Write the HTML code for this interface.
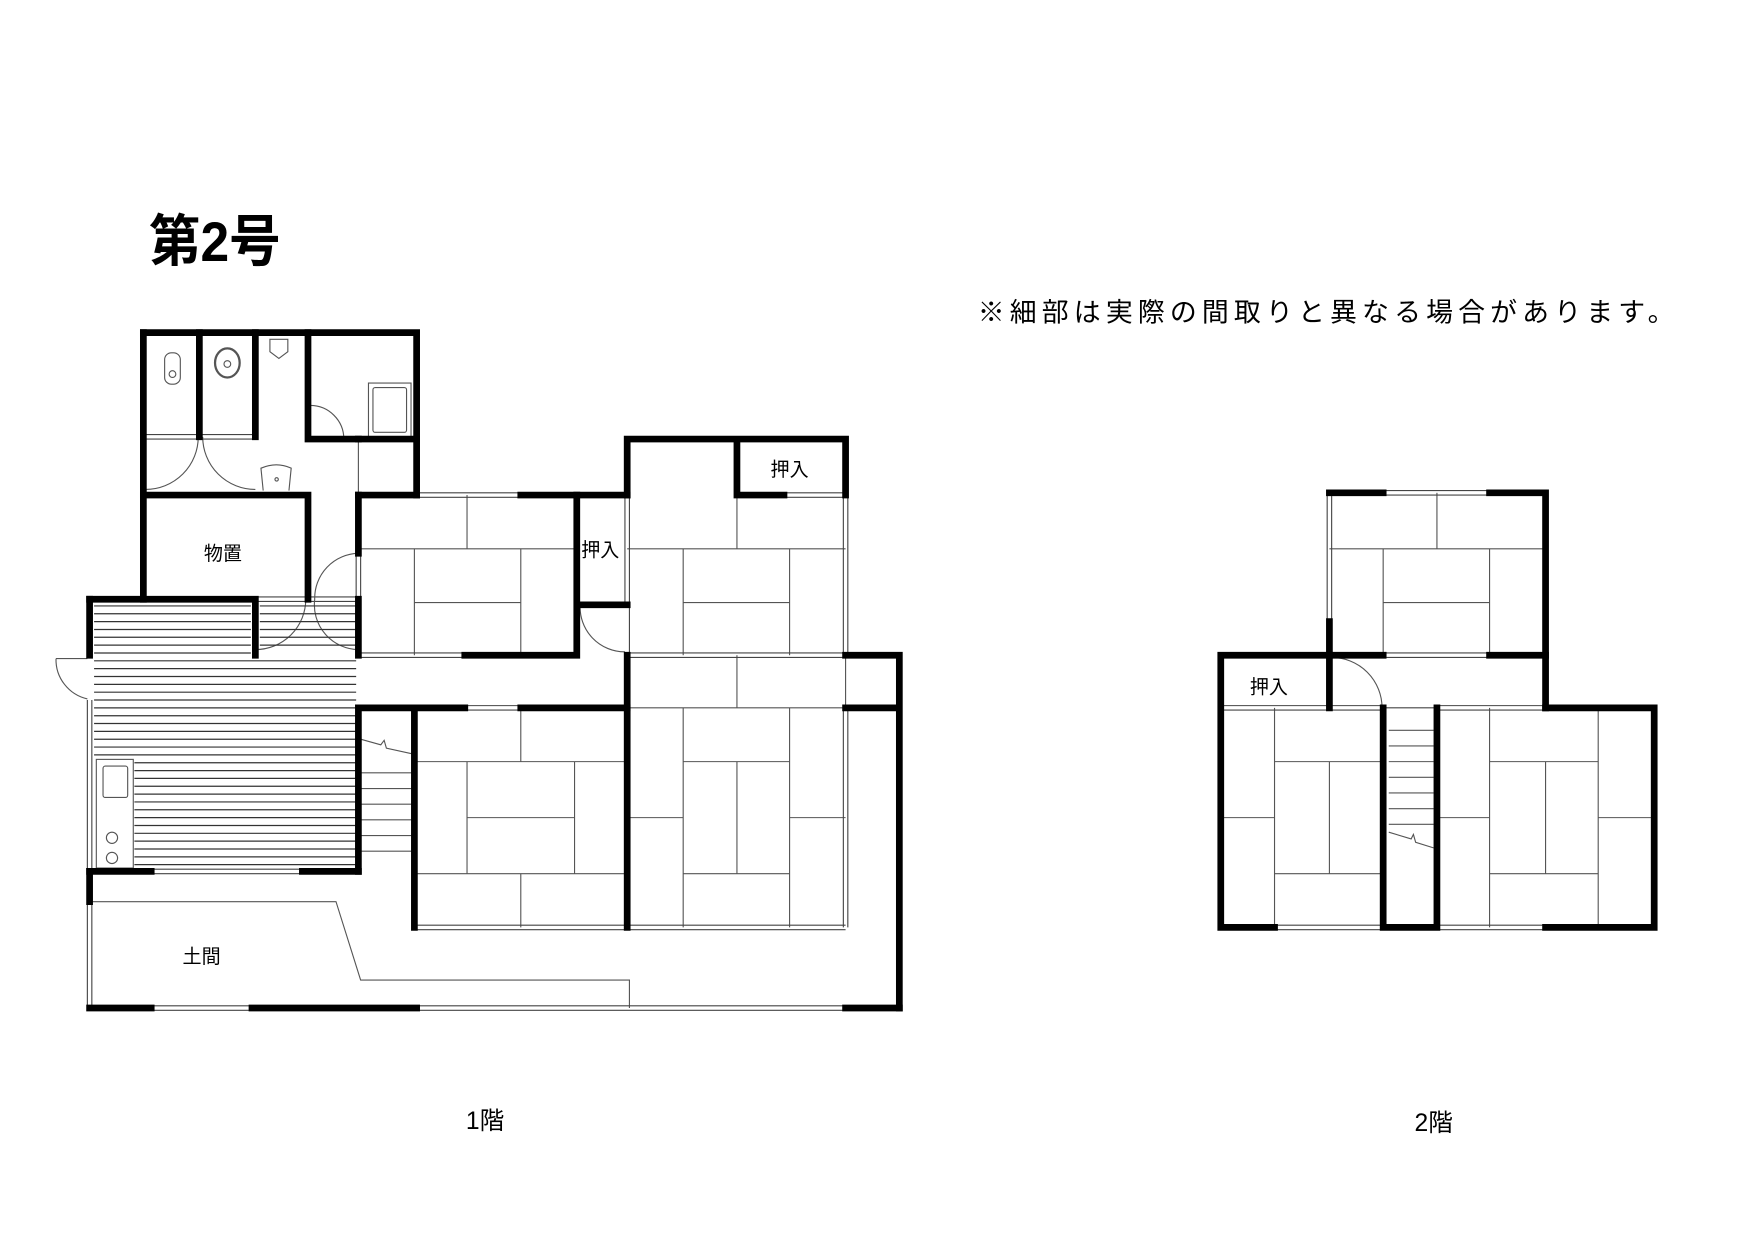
<!DOCTYPE html>
<html><head><meta charset="utf-8"><style>
html,body{margin:0;padding:0;background:#fff;}
svg{display:block;}
text{font-family:"Liberation Sans","Noto Sans CJK JP",sans-serif;fill:#000;}
</style></head><body>
<svg width="1755" height="1241" viewBox="0 0 1567 1108" preserveAspectRatio="none" xmlns="http://www.w3.org/2000/svg">
<rect width="1567" height="1108" fill="#fff"/>
<text x="133" y="233" font-size="50" font-weight="bold" transform="scale(0.92,1)" style="transform-origin:133px 233px">第2号</text>
<text x="873" y="287" font-size="24" letter-spacing="4.6">※細部は実際の間取りと異なる場合があります。</text>

<g stroke="#555" stroke-width="1" fill="none">
<line x1="320" y1="490" x2="515" y2="490"/><line x1="417" y1="442" x2="417" y2="490"/>
<line x1="370" y1="490" x2="370" y2="585"/><line x1="465" y1="490" x2="465" y2="585"/>
<line x1="370" y1="538" x2="465" y2="538"/>
<line x1="560" y1="490" x2="755" y2="490"/><line x1="658" y1="442" x2="658" y2="490"/>
<line x1="610" y1="490" x2="610" y2="585"/><line x1="705" y1="490" x2="705" y2="585"/>
<line x1="610" y1="538" x2="705" y2="538"/>
<line x1="658" y1="585" x2="658" y2="632"/><line x1="560" y1="632" x2="755" y2="632"/>
<line x1="610" y1="632" x2="610" y2="828"/><line x1="705" y1="632" x2="705" y2="828"/>
<line x1="560" y1="730" x2="610" y2="730"/><line x1="705" y1="730" x2="755" y2="730"/>
<line x1="610" y1="680" x2="705" y2="680"/><line x1="610" y1="780" x2="705" y2="780"/>
<line x1="658" y1="680" x2="658" y2="780"/>
<line x1="755" y1="585" x2="755" y2="632"/>
<line x1="465" y1="632" x2="465" y2="680"/><line x1="370" y1="680" x2="560" y2="680"/>
<line x1="417" y1="680" x2="417" y2="780"/><line x1="513" y1="680" x2="513" y2="780"/>
<line x1="417" y1="730" x2="513" y2="730"/><line x1="370" y1="780" x2="560" y2="780"/>
<line x1="465" y1="780" x2="465" y2="828"/>
<line x1="1187" y1="490" x2="1380" y2="490"/><line x1="1283" y1="440" x2="1283" y2="490"/>
<line x1="1235" y1="490" x2="1235" y2="585"/><line x1="1330" y1="490" x2="1330" y2="585"/>
<line x1="1235" y1="538" x2="1330" y2="538"/>
<line x1="1138" y1="632" x2="1138" y2="828"/><line x1="1090" y1="730" x2="1138" y2="730"/>
<line x1="1138" y1="680" x2="1235" y2="680"/><line x1="1138" y1="780" x2="1235" y2="780"/>
<line x1="1187" y1="680" x2="1187" y2="780"/>
<line x1="1330" y1="632" x2="1330" y2="828"/><line x1="1427" y1="632" x2="1427" y2="828"/>
<line x1="1283" y1="730" x2="1330" y2="730"/><line x1="1427" y1="730" x2="1477" y2="730"/>
<line x1="1330" y1="680" x2="1427" y2="680"/><line x1="1330" y1="780" x2="1427" y2="780"/>
<line x1="1380" y1="680" x2="1380" y2="780"/>
<line x1="1240" y1="652" x2="1280" y2="652"/><line x1="1240" y1="666" x2="1280" y2="666"/>
<line x1="1240" y1="680" x2="1280" y2="680"/><line x1="1240" y1="694" x2="1280" y2="694"/>
<line x1="1240" y1="708" x2="1280" y2="708"/><line x1="1240" y1="722" x2="1280" y2="722"/>
<line x1="1240" y1="736" x2="1280" y2="736"/>
<polyline points="1240,743 1260,749 1262,745 1264,752 1280,757"/>
<polyline points="322,660 340,665 343,661 345,668 368,673"/>
<line x1="322" y1="690" x2="368" y2="690"/><line x1="322" y1="704" x2="368" y2="704"/>
<line x1="322" y1="718" x2="368" y2="718"/><line x1="322" y1="732" x2="368" y2="732"/>
<line x1="322" y1="746" x2="368" y2="746"/><line x1="322" y1="760" x2="368" y2="760"/>
<polyline points="82,805 300,805 322,875 562,875 562,900"/>
<g stroke="#444">
<line x1="372" y1="440" x2="465" y2="440"/><line x1="372" y1="444" x2="465" y2="444"/>
<line x1="320" y1="583" x2="415" y2="583"/><line x1="320" y1="587" x2="415" y2="587"/>
<line x1="560" y1="583" x2="755" y2="583"/><line x1="560" y1="587" x2="755" y2="587"/>
<line x1="700" y1="440" x2="755" y2="440"/><line x1="700" y1="444" x2="755" y2="444"/>
<line x1="753" y1="442" x2="753" y2="585"/><line x1="757" y1="442" x2="757" y2="585"/>
<line x1="558" y1="442" x2="558" y2="540"/><line x1="562" y1="442" x2="562" y2="585"/>
<line x1="415" y1="630" x2="465" y2="630"/><line x1="415" y1="634" x2="465" y2="634"/>
<line x1="370" y1="826" x2="755" y2="826"/><line x1="370" y1="830" x2="755" y2="830"/>
<line x1="753" y1="632" x2="753" y2="828"/><line x1="757" y1="632" x2="757" y2="828"/>
<line x1="801" y1="638" x2="801" y2="720"/><line x1="805" y1="638" x2="805" y2="720"/>
<line x1="135" y1="776" x2="270" y2="776"/><line x1="135" y1="780" x2="270" y2="780"/>
<line x1="135" y1="898" x2="225" y2="898"/><line x1="135" y1="902" x2="225" y2="902"/>
<line x1="372" y1="898" x2="755" y2="898"/><line x1="372" y1="902" x2="755" y2="902"/>
<line x1="78" y1="625" x2="78" y2="778"/><line x1="82" y1="625" x2="82" y2="778"/>
<line x1="78" y1="805" x2="78" y2="900"/><line x1="82" y1="805" x2="82" y2="900"/>
<line x1="128" y1="388" x2="228" y2="388"/><line x1="128" y1="392" x2="228" y2="392"/>
<line x1="275" y1="390" x2="320" y2="390"/><line x1="275" y1="394" x2="320" y2="394"/>
<line x1="318" y1="494" x2="318" y2="535"/><line x1="322" y1="494" x2="322" y2="535"/>
<line x1="228" y1="533" x2="320" y2="533"/><line x1="228" y1="537" x2="320" y2="537"/>
<line x1="515" y1="538" x2="560" y2="538"/>
<line x1="1235" y1="438" x2="1330" y2="438"/><line x1="1235" y1="442" x2="1330" y2="442"/>
<line x1="1235" y1="583" x2="1330" y2="583"/><line x1="1235" y1="587" x2="1330" y2="587"/>
<line x1="1185" y1="442" x2="1185" y2="555"/><line x1="1189" y1="442" x2="1189" y2="555"/>
<line x1="1090" y1="630" x2="1235" y2="630"/><line x1="1090" y1="634" x2="1235" y2="634"/>
<line x1="1283" y1="630" x2="1380" y2="630"/><line x1="1283" y1="634" x2="1380" y2="634"/>
<line x1="1138" y1="826" x2="1235" y2="826"/><line x1="1138" y1="830" x2="1235" y2="830"/>
<line x1="1283" y1="826" x2="1380" y2="826"/><line x1="1283" y1="830" x2="1380" y2="830"/>
<line x1="1235" y1="632" x2="1283" y2="632"/>
</g>
<path d="M130,437 A47,47 0 0 0 177,390"/>
<path d="M228,437 A47,47 0 0 1 181,390"/>
<path d="M277,362 A30,30 0 0 1 307,392"/>
<path d="M320,494 A40,40 0 0 0 281,535 A40,40 0 0 0 320,580"/>
<path d="M228,580 A45,45 0 0 0 273,535"/>
<path d="M518,540 A40,40 0 0 0 558,582"/>
<path d="M50,588 A36,36 0 0 0 78,624"/>
<path d="M1189,587 A45,45 0 0 1 1234,632"/>
<line x1="50" y1="588" x2="78" y2="588"/>
<line x1="320" y1="392" x2="320" y2="442"/>
<rect x="147" y="315" width="14" height="28" rx="6"/>
<circle cx="154" cy="334" r="3"/>
<ellipse cx="203" cy="324" rx="11" ry="13" stroke-width="2"/>
<circle cx="203" cy="325" r="3"/>
<path d="M241,303 L257,303 L257,314 L249,320 L241,314 Z"/>
<rect x="329" y="342" width="38" height="48"/>
<rect x="333" y="346" width="30" height="40" rx="2"/>
<path d="M235,438 L233,418 Q247,412 260,418 L258,438"/>
<circle cx="247" cy="428" r="1.5"/>
<rect x="86" y="678" width="33" height="97"/>
<rect x="92" y="684" width="22" height="28" rx="2"/>
<circle cx="100" cy="748" r="5"/><circle cx="100" cy="766" r="5"/>
</g>

<g stroke="#333" stroke-width="1.1">
<path d="M84,541H224M84,548H224M84,555H224M84,562H224M84,569H224M84,576H224M84,583H224
M232,541H318M232,548H318M232,555H318M232,562H318M232,569H318M232,576H318
M84,590H318M84,597H318M84,604H318M84,611H318M84,618H318M84,625H318M84,632H318
M84,639H318M84,646H318M84,653H318M84,660H318M84,667H318M84,674H318
M120,681H318M120,688H318M120,695H318M120,702H318M120,709H318M120,716H318M120,723H318M120,730H318M120,737H318M120,744H318M120,751H318M120,758H318M120,765H318M120,772H318"/>
</g>

<g stroke="#000" stroke-width="6" stroke-linecap="square" fill="none">
<path d="M128,297H372V442"/>
<path d="M128,297V535"/>
<path d="M178,297V390M228,297V390M275,297V392H320"/>
<path d="M320,392H372"/>
<path d="M128,442H275V535M320,442H372M465,442H560"/>
<path d="M320,442V494M320,535V585M415,585H515V442M515,540H560"/>
<path d="M80,535H228V585"/>
<path d="M80,535V585M80,778V805"/>
<path d="M560,392H755V442M658,392V442H700M560,392V442"/>
<path d="M560,585V828M755,585H803V900M755,632H803"/>
<path d="M320,632H415M465,632H560M320,632V778M370,632V828"/>
<path d="M80,778H135M270,778H320"/>
<path d="M80,900H135M225,900H372M755,900H803"/>
<path d="M1187,440H1235M1330,440H1380V632M1187,555V632"/>
<path d="M1187,585H1235M1330,585H1380"/>
<path d="M1090,585H1187M1090,585V828H1138M1235,632V828H1283V632M1380,632H1477V828H1380"/>
</g>

<g font-size="17">
<text x="182" y="500">物置</text>
<text x="519" y="497">押入</text>
<text x="688" y="425">押入</text>
<text x="1116" y="619">押入</text>
<text x="163" y="860">土間</text>
</g>
<text x="416" y="1008" font-size="22">1階</text>
<text x="1263" y="1010" font-size="22">2階</text>
</svg>
</body></html>
